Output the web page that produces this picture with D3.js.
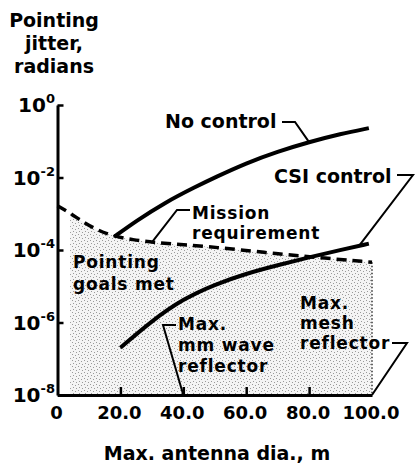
<!DOCTYPE html>
<html>
<head>
<meta charset="utf-8">
<script src="https://cdn.jsdelivr.net/npm/d3@7"></script>
<style>
  body { margin: 0; background: #fff; }
  text { font-family: "DejaVu Sans", sans-serif; font-weight: bold; fill: #000; }
</style>
</head>
<body>
<script>
var width = 415, height = 473

// antenna diameter (m) vs pointing jitter (radians)
var noControlX = [18, 25, 34, 44, 50, 60, 70, 80, 90, 99]
var noControlY = [2.3e-4, 6.3e-4, 2.0e-3, 5.6e-3, 1.0e-2, 2.5e-2, 5.2e-2, 9.5e-2, 0.16, 0.23]

var csiX = [20, 30, 40, 50, 60, 70, 80, 90, 99]
var csiY = [2.0e-7, 1.12e-6, 4.5e-6, 1.12e-5, 2.24e-5, 3.8e-5, 6.3e-5, 1.0e-4, 1.5e-4]

var missionX = [0, 4, 8, 12, 17, 24, 31, 40, 50, 66, 80, 100]
var missionY = [1.66e-3, 1.05e-3, 6.0e-4, 3.8e-4, 2.5e-4, 1.9e-4, 1.6e-4, 1.4e-4, 1.2e-4, 8.5e-5, 6.5e-5, 4.6e-5]

var shadeStart = 4      // stippled region starts here (m)
var mmWaveMax = 40      // max mm wave reflector dia.
var meshMax = 100       // max mesh reflector dia.

var xTicks = [0, 20, 40, 60, 80, 100]
var xTickLabels = ['0', '20.0', '40.0', '60.0', '80.0', '100.0']
var yTicks = [1, 1e-2, 1e-4, 1e-6, 1e-8]
var yTickExp = ['0', '-2', '-4', '-6', '-8']

function zip(xs, ys) {
  return xs.map(function(x, i) { return { x: x, y: ys[i] } })
}

var svg = d3.select('body').append('svg')
  .attr('width', width)
  .attr('height', height)

var x = d3.scaleLinear().domain([0, 100]).range([57.5, 372])
var y = d3.scaleLog().domain([1e-8, 1]).range([395, 105])

// stipple pattern for "pointing goals met"
var defs = svg.append('defs')
var pat = defs.append('pattern')
  .attr('id', 'stipple')
  .attr('patternUnits', 'userSpaceOnUse')
  .attr('width', 6).attr('height', 6)
pat.append('rect').attr('width', 6).attr('height', 6).attr('fill', '#f4f4f4')
;[[0, 0], [3, 1], [1, 3], [4, 4]].forEach(function(p) {
  pat.append('rect').attr('x', p[0]).attr('y', p[1]).attr('width', 1).attr('height', 1).attr('fill', '#9a9a9a')
})

var mission = zip(missionX, missionY)
var area = d3.area()
  .defined(function(d) { return d.x >= shadeStart })
  .x(function(d) { return x(d.x) })
  .y0(y(1e-8))
  .y1(function(d) { return y(d.y) })
  .curve(d3.curveBasis)

svg.append('path')
  .datum(mission)
  .attr('d', area)
  .attr('fill', 'url(#stipple)')

// mesh reflector boundary (dotted)
svg.append('line')
  .attr('x1', x(meshMax)).attr('x2', x(meshMax))
  .attr('y1', y(missionY[missionY.length - 1])).attr('y2', y(1e-8))
  .attr('stroke', '#333').attr('stroke-width', 1.5)
  .attr('stroke-dasharray', '1.5,2')

var line = d3.line()
  .x(function(d) { return x(d.x) })
  .y(function(d) { return y(d.y) })
  .curve(d3.curveBasis)

svg.append('path')
  .datum(mission)
  .attr('d', line)
  .attr('fill', 'none').attr('stroke', '#000')
  .attr('stroke-width', 3.5)
  .attr('stroke-dasharray', '10,6')

svg.append('path')
  .datum(zip(noControlX, noControlY))
  .attr('d', line)
  .attr('fill', 'none').attr('stroke', '#000')
  .attr('stroke-width', 4)

svg.append('path')
  .datum(zip(csiX, csiY))
  .attr('d', line)
  .attr('fill', 'none').attr('stroke', '#000')
  .attr('stroke-width', 4)

// axes
svg.append('g')
  .attr('transform', 'translate(' + x(0) + ',0)')
  .call(d3.axisRight(y).tickValues(yTicks).tickSize(6).tickSizeOuter(0).tickFormat(''))
svg.append('g')
  .attr('transform', 'translate(0,' + y(1e-8) + ')')
  .call(d3.axisTop(x).tickValues([20, 40, 60, 80]).tickSize(8).tickSizeOuter(0).tickFormat(''))
svg.selectAll('.domain').attr('stroke', '#000').attr('stroke-width', 3)
svg.selectAll('.tick line').attr('stroke', '#000').attr('stroke-width', 2.5)

// tick labels
var yl = svg.append('g')
yTicks.forEach(function(v, i) {
  var t = yl.append('text')
    .attr('x', 55).attr('y', y(v) + 7)
    .attr('text-anchor', 'end')
    .style('font-size', '20px')
  t.append('tspan').text('10')
  t.append('tspan').text(yTickExp[i])
    .attr('dy', -9).style('font-size', '13px')
})

svg.append('g').selectAll('text')
  .data(xTicks)
  .enter().append('text')
  .attr('x', function(d) { return x(d) - 1 })
  .attr('y', 419)
  .attr('text-anchor', 'middle')
  .style('font-size', '18px')
  .text(function(d, i) { return xTickLabels[i] })

svg.append('text')
  .attr('x', 217).attr('y', 460)
  .attr('text-anchor', 'middle')
  .style('font-size', '19px')
  .text('Max. antenna dia., m')

// y title
var title = ['Pointing', 'jitter,', 'radians']
svg.append('g').selectAll('text')
  .data(title)
  .enter().append('text')
  .attr('x', 54)
  .attr('y', function(d, i) { return 27 + i * 23 })
  .attr('text-anchor', 'middle')
  .style('font-size', '19px')
  .text(function(d) { return d })

// annotations
function label(lines, tx, ty, lh, fs) {
  var g = svg.append('g')
  lines.forEach(function(s, i) {
    g.append('text').attr('x', tx).attr('y', ty + i * lh)
      .style('font-size', (fs || 17) + 'px')
      .style('letter-spacing', fs ? '0px' : '0.8px')
      .text(s)
  })
}
function leader(pts) {
  svg.append('path')
    .attr('d', d3.line()(pts))
    .attr('fill', 'none').attr('stroke', '#000')
    .attr('stroke-width', 2).attr('stroke-linejoin', 'miter')
}

label(['No control'], 165, 128, 0, 19)
leader([[282, 122], [295, 122], [x(80), y(9.5e-2)]])

label(['CSI control'], 274, 183, 0, 19)
leader([[397, 175], [413, 175], [x(96), y(1.35e-4)]])

label(['Mission', 'requirement'], 192, 219, 20)
leader([[190, 210], [177, 210], [x(30), y(1.62e-4)]])

label(['Pointing', 'goals met'], 73, 268, 22)

label(['Max.', 'mm wave', 'reflector'], 178, 330, 21)
leader([[176, 325], [163, 325], [x(mmWaveMax), y(1e-8)]])

label(['Max.', 'mesh', 'reflector'], 300, 309, 20)
leader([[392, 343], [407, 343], [x(meshMax), y(1e-8)]])
</script>
</body>
</html>
